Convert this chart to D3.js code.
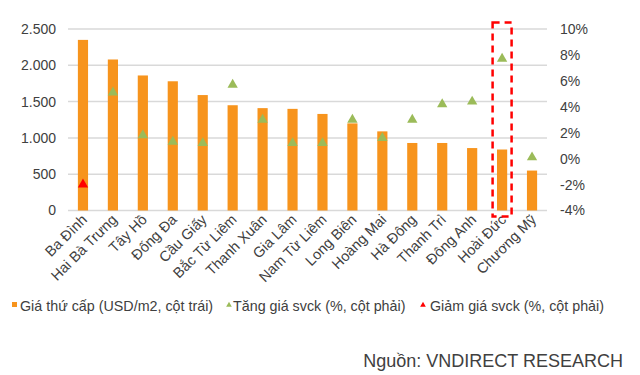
<!DOCTYPE html>
<html>
<head>
<meta charset="utf-8">
<script src="https://cdn.jsdelivr.net/npm/d3@7"></script>
<style>
  body { margin: 0; background: #fff; }
  text { font-family: "Liberation Sans", Arial, sans-serif; fill: #404040; }
</style>
</head>
<body>
<svg id="chart" width="640" height="375"></svg>
<script>
var districts = ["Ba Đình", "Hai Bà Trưng", "Tây Hồ", "Đống Đa", "Cầu Giấy", "Bắc Từ Liêm",
  "Thanh Xuân", "Gia Lâm", "Nam Từ Liêm", "Long Biên", "Hoàng Mai", "Hà Đông",
  "Thanh Trì", "Đông Anh", "Hoài Đức", "Chương Mỹ"];
var prices = [2350, 2080, 1860, 1780, 1590, 1450, 1410, 1400, 1330, 1200, 1090, 930, 930, 860, 840, 550];
var changes = [-2.0, 5.1, 1.8, 1.3, 1.2, 5.7, 3.0, 1.2, 1.2, 3.0, 1.6, 3.0, 4.2, 4.4, 7.7, 0.1];
var leftTicks = [0, 500, 1000, 1500, 2000, 2500];
var rightTicks = [-4, -2, 0, 2, 4, 6, 8, 10];
var highlight = "Hoài Đức";
var legendItems = ["Giá thứ cấp (USD/m2, cột trái)", "Tăng giá svck (%, cột phải)", "Giảm giá svck (%, cột phải)"];

var svg = d3.select("#chart");
var mLeft = 68, mRight = 547, mTop = 29, mBottom = 210.5;

var x = d3.scaleBand().domain(districts).range([mLeft, mRight]).paddingInner(0.66).paddingOuter(0.33);
var yL = d3.scaleLinear().domain([0, 2500]).range([mBottom, mTop]);
var yR = d3.scaleLinear().domain([-4, 10]).range([mBottom, mTop]);

// gridlines
svg.append("g").selectAll("line")
  .data(leftTicks)
  .enter().append("line")
  .attr("x1", mLeft).attr("x2", mRight)
  .attr("y1", function(d){ return yL(d); })
  .attr("y2", function(d){ return yL(d); })
  .attr("stroke", "#d9d9d9")
  .attr("stroke-width", 1.5);

// left axis
var axL = svg.append("g").attr("transform", "translate(" + (mLeft - 12) + ",0)")
  .call(d3.axisLeft(yL).tickValues(leftTicks).tickSize(0)
    .tickFormat(function(d){ return d3.format(",")(d).replace(",", "."); }));
axL.select(".domain").remove();
axL.selectAll("text").attr("font-size", 14).attr("fill", "#404040").attr("x", 0)
  .style("font-family", '"Liberation Sans", Arial, sans-serif');

// right axis
var axR = svg.append("g").attr("transform", "translate(" + (mRight + 13) + ",0)")
  .call(d3.axisRight(yR).tickValues(rightTicks).tickSize(0)
    .tickFormat(function(d){ return d + "%"; }));
axR.select(".domain").remove();
axR.selectAll("text").attr("font-size", 14).attr("fill", "#404040").attr("x", 0)
  .style("font-family", '"Liberation Sans", Arial, sans-serif');

// bars
svg.append("g").selectAll("rect")
  .data(prices)
  .enter().append("rect")
  .attr("x", function(d, i){ return x(districts[i]); })
  .attr("width", x.bandwidth())
  .attr("y", function(d){ return yL(d); })
  .attr("height", function(d){ return mBottom - yL(d); })
  .attr("fill", "#f7941d");

// triangles
var tri = d3.symbol().type(d3.symbolTriangle).size(46);
svg.append("g").selectAll("path")
  .data(changes)
  .enter().append("path")
  .attr("d", tri)
  .attr("transform", function(d, i){
    return "translate(" + (x(districts[i]) + x.bandwidth() / 2) + "," + yR(d) + ")";
  })
  .attr("fill", function(d){ return d < 0 ? "#ff0000" : "#9bbb59"; });

// x labels
svg.append("g").selectAll("text")
  .data(districts)
  .enter().append("text")
  .attr("transform", function(d){
    return "translate(" + (x(d) + x.bandwidth() / 2 + 5) + "," + (mBottom + 10) + ") rotate(-45)";
  })
  .attr("text-anchor", "end")
  .attr("font-size", 14.5)
  .text(function(d){ return d; });

// highlight box
var hx = x(highlight) + x.bandwidth() / 2;
svg.append("rect")
  .attr("x", hx - 9.5).attr("y", 22.5)
  .attr("width", 19).attr("height", 194)
  .attr("fill", "none")
  .attr("stroke", "#ff0000")
  .attr("stroke-width", 2.5)
  .attr("stroke-dasharray", "7,5");

// legend
var lg = svg.append("g");
lg.append("rect").attr("x", 12).attr("y", 302).attr("width", 5).attr("height", 5).attr("fill", "#f7941d");
lg.append("path").attr("d", d3.symbol().type(d3.symbolTriangle).size(14))
  .attr("transform", "translate(229,305)").attr("fill", "#9bbb59");
lg.append("path").attr("d", d3.symbol().type(d3.symbolTriangle).size(14))
  .attr("transform", "translate(423,305)").attr("fill", "#ff0000");
var lgX = [20, 233, 430];
lg.selectAll("text")
  .data(legendItems)
  .enter().append("text")
  .attr("x", function(d, i){ return lgX[i]; })
  .attr("y", 311)
  .attr("font-size", 14.3)
  .text(function(d){ return d; });

svg.append("text")
  .attr("x", 623).attr("y", 367)
  .attr("text-anchor", "end")
  .attr("font-size", 18)
  .attr("fill", "#222")
  .text("Nguồn: VNDIRECT RESEARCH");
</script>
</body>
</html>
